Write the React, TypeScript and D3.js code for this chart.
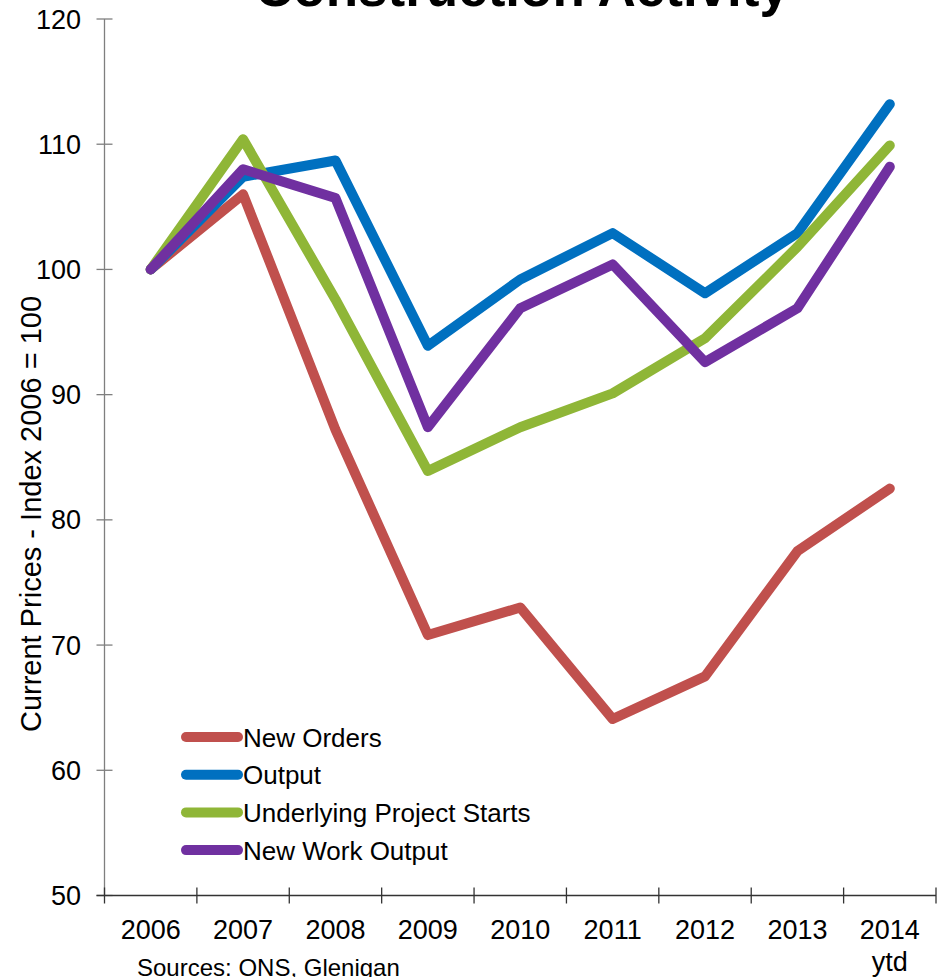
import React from "react";
import * as d3 from "d3";

const years = ["2006", "2007", "2008", "2009", "2010", "2011", "2012", "2013", "2014"];
const yearSub = ["", "", "", "", "", "", "", "", "ytd"];
const newOrders = [100, 106.0, 87.2, 70.8, 73.0, 64.1, 67.5, 77.5, 82.5];
const output = [100, 107.4, 108.7, 93.9, 99.2, 102.9, 98.1, 102.9, 113.2];
const projectStarts = [100, 110.4, 97.6, 83.9, 87.4, 90.1, 94.5, 101.8, 109.9];
const newWorkOutput = [100, 108.0, 105.7, 87.4, 96.9, 100.4, 92.6, 96.9, 108.2];
const yTicks = [50, 60, 70, 80, 90, 100, 110, 120];

const seriesNames = ["New Orders", "Output", "Underlying Project Starts", "New Work Output"];
const seriesValues = [newOrders, output, projectStarts, newWorkOutput];
const seriesColors = ["#C0504D", "#0070C0", "#8FB637", "#7030A0"];

const W = 938;
const H = 977;
const FONT = "'Liberation Sans', Arial, sans-serif";

export default function App() {
  const left = 104.5;
  const right = 936;
  const top = 19;
  const bottom = 895.5;

  const x = d3.scaleBand<string>().domain(years).range([left, right]).padding(0);
  const y = d3.scaleLinear().domain([50, 120]).range([bottom, top]);
  const cx = (i: number) => (x(years[i]) as number) + x.bandwidth() / 2;

  const line = d3
    .line<number>()
    .x((_, i) => cx(i))
    .y((v) => y(v));

  const tickXs = [...years.map((yr) => x(yr) as number), right];

  return (
    <svg
      width={W}
      height={H}
      style={{ position: "absolute", left: 0, top: 0, background: "#fff" }}
      fontFamily={FONT}
    >
      <rect width={W} height={H} fill="#fff" />
      <text x={522} y={6} textAnchor="middle" fontSize={53} fontWeight="bold" fill="#000">
        Construction Activity
      </text>

      {/* Y axis */}
      <line x1={left} x2={left} y1={top} y2={bottom} stroke="#7f7f7f" strokeWidth={1.3} />
      {yTicks.map((t) => (
        <g key={t}>
          <line x1={left - 8} x2={left + 8} y1={y(t)} y2={y(t)} stroke="#7f7f7f" strokeWidth={1.3} />
          <text x={81} y={y(t) + 9.5} textAnchor="end" fontSize={27} fill="#000">
            {t}
          </text>
        </g>
      ))}

      {/* X axis */}
      <line x1={left - 8} x2={right} y1={bottom} y2={bottom} stroke="#333" strokeWidth={1.3} />
      {tickXs.map((tx, i) => (
        <line key={i} x1={tx} x2={tx} y1={bottom - 8} y2={bottom + 8} stroke="#333" strokeWidth={1.3} />
      ))}
      {years.map((yr, i) => (
        <g key={yr}>
          <text x={cx(i)} y={939} textAnchor="middle" fontSize={27} fill="#000">
            {yr}
          </text>
          {yearSub[i] && (
            <text x={cx(i)} y={971} textAnchor="middle" fontSize={27} fill="#000">
              {yearSub[i]}
            </text>
          )}
        </g>
      ))}

      {/* Y axis title */}
      <text
        transform={`translate(41, ${(733 + 295) / 2}) rotate(-90)`}
        textAnchor="middle"
        fontSize={29}
        fill="#000"
      >
        Current Prices - Index 2006 = 100
      </text>

      {/* Lines */}
      {seriesValues.map((vals, si) => (
        <path
          key={si}
          d={line(vals) as string}
          fill="none"
          stroke={seriesColors[si]}
          strokeWidth={10}
          strokeLinecap="round"
          strokeLinejoin="round"
        />
      ))}

      {/* Legend */}
      {seriesNames.map((name, i) => {
        const ly = 737 + i * 37.7;
        return (
          <g key={name}>
            <line x1={186} x2={238} y1={ly} y2={ly} stroke={seriesColors[i]} strokeWidth={10} strokeLinecap="round" />
            <text x={243} y={ly + 9.5} fontSize={26} fill="#000">
              {name}
            </text>
          </g>
        );
      })}

      <text x={137} y={976} fontSize={24} fill="#000">
        Sources: ONS, Glenigan
      </text>
    </svg>
  );
}
